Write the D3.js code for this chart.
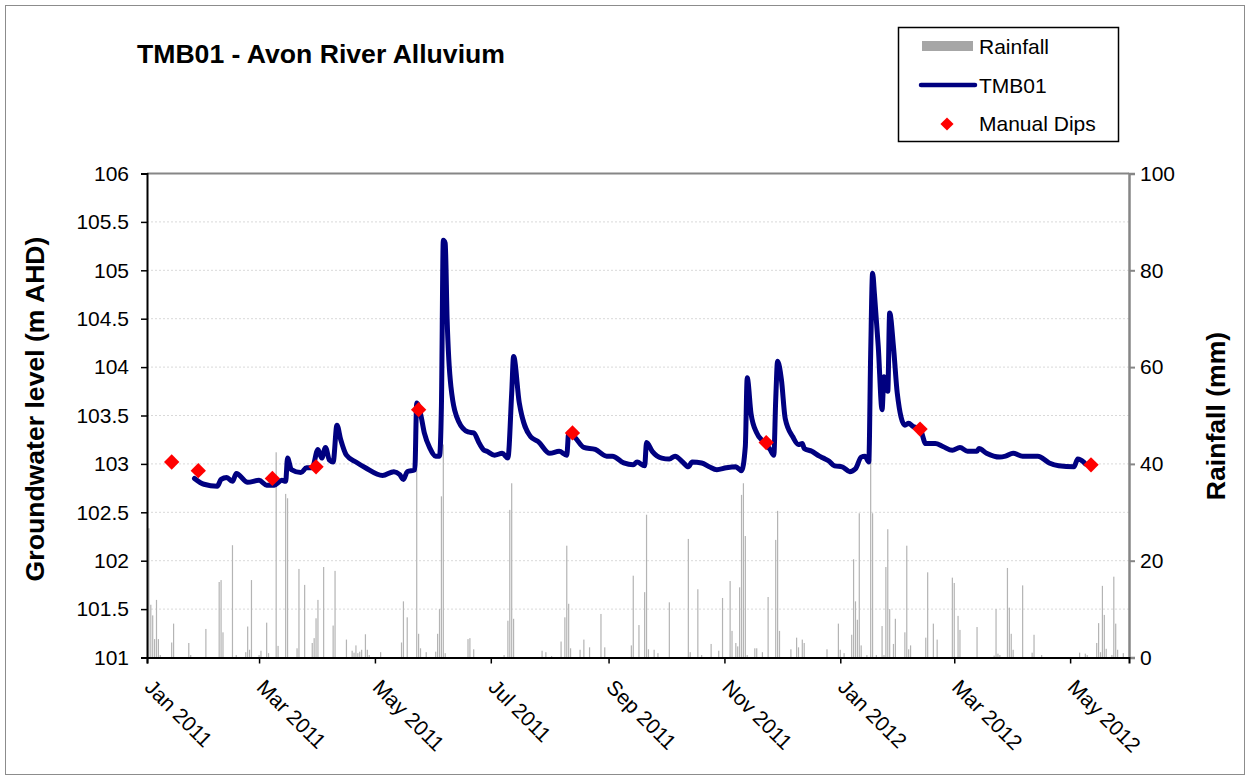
<!DOCTYPE html>
<html>
<head>
<meta charset="utf-8">
<script src="https://cdn.jsdelivr.net/npm/d3@7"></script>
<style>
  body { margin: 0; background: #fff; }
  svg { display: block; font-family: "Liberation Sans", Arial, sans-serif; }
</style>
</head>
<body>
<svg id="chart" width="1250" height="780"></svg>
<script>
// ---- data -------------------------------------------------------------
// Logger record for bore TMB01 (m AHD)
const levelDates = [
  "2011-01-26","2011-01-31","2011-02-07","2011-02-09","2011-02-12","2011-02-15","2011-02-17","2011-02-23",
  "2011-03-01","2011-03-05","2011-03-09","2011-03-13","2011-03-15","2011-03-16","2011-03-18","2011-03-23",
  "2011-03-26","2011-03-29","2011-04-01","2011-04-03","2011-04-05","2011-04-07","2011-04-09","2011-04-11",
  "2011-04-13","2011-04-16","2011-04-21","2011-04-26","2011-05-05","2011-05-11","2011-05-14","2011-05-16",
  "2011-05-18","2011-05-22","2011-05-23","2011-05-25","2011-05-27","2011-05-30","2011-06-02","2011-06-04",
  "2011-06-05","2011-06-06","2011-06-07","2011-06-08","2011-06-10","2011-06-14","2011-06-19","2011-06-22",
  "2011-06-25","2011-06-27","2011-06-29","2011-07-03","2011-07-07","2011-07-10","2011-07-12","2011-07-13",
  "2011-07-16","2011-07-22","2011-07-26","2011-08-01","2011-08-06","2011-08-10","2011-08-11","2011-08-14",
  "2011-08-19","2011-08-25","2011-08-31","2011-09-03","2011-09-09","2011-09-14","2011-09-16","2011-09-20",
  "2011-09-21","2011-09-24","2011-09-29","2011-10-03","2011-10-06","2011-10-10","2011-10-13","2011-10-15",
  "2011-10-20","2011-10-24","2011-10-28","2011-11-02","2011-11-07","2011-11-10","2011-11-12","2011-11-13",
  "2011-11-15","2011-11-18","2011-11-22","2011-11-25","2011-11-27","2011-11-28","2011-11-29","2011-12-01",
  "2011-12-03","2011-12-07","2011-12-10","2011-12-12","2011-12-13","2011-12-17","2011-12-21","2011-12-23",
  "2011-12-26","2011-12-29","2012-01-02","2012-01-06","2012-01-09","2012-01-12","2012-01-14","2012-01-16",
  "2012-01-17","2012-01-18","2012-01-19","2012-01-21","2012-01-23","2012-01-24","2012-01-26","2012-01-27",
  "2012-01-29","2012-01-31","2012-02-04","2012-02-06","2012-02-08","2012-02-12","2012-02-15","2012-02-20",
  "2012-02-24","2012-02-29","2012-03-04","2012-03-08","2012-03-13","2012-03-14","2012-03-18","2012-03-25",
  "2012-03-28","2012-04-01","2012-04-06","2012-04-14","2012-04-20","2012-04-25","2012-05-03","2012-05-05",
  "2012-05-08","2012-05-09"
];
const levelValues = [
  102.85,102.79,102.77,102.84,102.86,102.82,102.90,102.81,
  102.83,102.78,102.78,102.83,102.82,103.06,102.94,102.91,
  102.96,102.96,103.15,103.06,103.17,103.04,103.02,103.40,
  103.25,103.09,103.02,102.96,102.88,102.92,102.89,102.84,
  102.92,102.94,103.63,103.52,103.32,103.16,103.08,103.08,
  103.59,105.31,105.28,104.50,103.80,103.44,103.33,103.32,
  103.21,103.15,103.13,103.09,103.11,103.06,103.73,104.11,
  103.63,103.28,103.23,103.11,103.13,103.09,103.32,103.28,
  103.17,103.15,103.08,103.08,103.01,102.99,103.02,102.98,
  103.22,103.13,103.06,103.05,103.08,103.02,102.97,103.02,
  103.01,102.97,102.94,102.96,102.97,102.93,103.18,103.89,
  103.52,103.32,103.22,103.15,103.09,103.66,104.06,103.87,
  103.47,103.28,103.20,103.21,103.16,103.13,103.08,103.06,
  103.03,102.98,102.97,102.92,102.95,103.07,103.08,103.02,
  104.14,104.97,104.75,104.21,103.56,103.90,103.75,104.56,
  104.21,103.73,103.40,103.42,103.39,103.36,103.21,103.21,
  103.18,103.14,103.17,103.13,103.13,103.16,103.11,103.07,
  103.08,103.11,103.08,103.08,103.01,102.98,102.97,103.05,
  103.02,103.00
];

// Manual dip measurements (m AHD)
const dipDates = ["2011-01-14","2011-01-28","2011-03-08","2011-03-31","2011-05-24",
                  "2011-08-13","2011-11-23","2012-02-12","2012-05-12"];
const dipValues = [103.02,102.93,102.85,102.97,103.56,103.32,103.22,103.36,102.99];

// Daily rainfall (mm), rain days only
const rainDates = [
  "2011-01-02","2011-01-03","2011-01-04","2011-01-05","2011-01-06","2011-01-07","2011-01-08","2011-01-14",
  "2011-01-15","2011-01-23","2011-01-24","2011-02-01","2011-02-08","2011-02-09","2011-02-10","2011-02-15",
  "2011-02-17","2011-02-22","2011-02-23","2011-02-24","2011-02-25","2011-03-01","2011-03-02","2011-03-05",
  "2011-03-06","2011-03-10","2011-03-11","2011-03-15","2011-03-16","2011-03-21","2011-03-22","2011-03-25",
  "2011-03-29","2011-03-30","2011-03-31","2011-04-01","2011-04-04","2011-04-09","2011-04-10","2011-04-16",
  "2011-04-19","2011-04-20","2011-04-21","2011-04-22","2011-04-23","2011-04-24","2011-04-26","2011-04-27",
  "2011-04-28","2011-05-04","2011-05-15","2011-05-16","2011-05-18","2011-05-23","2011-05-24","2011-05-25",
  "2011-05-28","2011-06-02","2011-06-03","2011-06-04","2011-06-05","2011-06-06","2011-06-07","2011-06-19",
  "2011-06-20","2011-06-22","2011-07-08","2011-07-10","2011-07-11","2011-07-12","2011-07-13","2011-07-28",
  "2011-07-30","2011-08-02","2011-08-07","2011-08-09","2011-08-10","2011-08-11","2011-08-12","2011-08-17",
  "2011-08-19","2011-08-22","2011-08-28","2011-08-30","2011-09-13","2011-09-14","2011-09-17","2011-09-20",
  "2011-09-21","2011-09-22","2011-09-25","2011-09-27","2011-10-03","2011-10-13","2011-10-14","2011-10-18",
  "2011-10-20","2011-10-25","2011-10-29","2011-10-31","2011-11-04","2011-11-05","2011-11-07","2011-11-08",
  "2011-11-09","2011-11-10","2011-11-11","2011-11-12","2011-11-13","2011-11-17","2011-11-18","2011-11-21",
  "2011-11-24","2011-11-28","2011-11-29","2011-11-30","2011-12-06","2011-12-09","2011-12-10","2011-12-12",
  "2011-12-13","2011-12-25","2011-12-31","2012-01-01","2012-01-03","2012-01-07","2012-01-08","2012-01-09",
  "2012-01-10","2012-01-11","2012-01-12","2012-01-15","2012-01-17","2012-01-18","2012-01-20","2012-01-23",
  "2012-01-24","2012-01-25","2012-01-26","2012-01-27","2012-01-29","2012-01-30","2012-02-04","2012-02-05",
  "2012-02-06","2012-02-07","2012-02-15","2012-02-16","2012-02-19","2012-02-21","2012-02-29","2012-03-01",
  "2012-03-03","2012-03-04","2012-03-13","2012-03-22","2012-03-23","2012-03-24","2012-03-25","2012-03-29",
  "2012-03-30","2012-03-31","2012-04-01","2012-04-06","2012-04-11","2012-04-12","2012-04-16","2012-05-06",
  "2012-05-09","2012-05-10","2012-05-15","2012-05-16","2012-05-17","2012-05-18","2012-05-19","2012-05-20",
  "2012-05-23","2012-05-24","2012-05-25","2012-05-26","2012-05-29"
];
const rainValues = [
  26.7,10.9,8.7,3.8,11.9,3.8,0.5,3.1,
  7.0,3.0,0.5,5.9,15.6,16.0,5.2,23.2,
  0.5,1.1,6.4,1.6,16.0,0.5,1.4,7.2,
  0.9,42.4,2.4,33.8,32.9,1.9,18.3,15.0,
  3.0,4.0,8.1,11.9,18.7,6.6,17.9,3.7,
  1.4,1.0,2.5,0.9,1.2,1.6,4.8,1.6,
  0.5,1.1,3.1,11.6,8.3,39.0,4.9,1.9,
  1.1,1.2,4.9,10.0,33.3,44.0,0.9,3.8,
  4.0,1.7,0.5,7.6,30.5,36.0,8.0,1.4,
  1.1,0.3,3.3,8.3,23.1,11.1,1.9,1.6,
  3.7,2.1,9.0,2.1,2.5,16.9,6.7,13.5,
  29.5,1.7,1.6,0.9,11.4,24.5,1.1,14.1,
  0.5,2.8,1.4,12.3,15.8,5.5,3.0,2.3,
  14.5,33.6,36.0,25.1,0.5,1.9,1.9,1.1,
  12.5,24.3,30.3,5.5,1.7,4.1,2.1,3.7,
  3.0,1.7,7.0,1.6,0.9,4.7,20.3,11.6,
  7.8,29.8,2.5,0.5,41.0,29.8,0.5,6.5,
  0.5,18.7,26.5,10.0,2.8,8.0,5.2,23.1,
  1.7,2.5,4.1,17.6,7.0,3.7,16.5,15.4,
  8.6,5.7,6.3,0.4,10.0,0.8,0.5,18.5,
  10.3,4.9,1.6,14.9,1.0,4.7,0.5,1.0,
  0.8,0.5,3.0,7.1,1.1,14.8,8.8,1.8,
  0.5,16.7,7.0,1.6,0.9
];

// Axis ticks
const levelTicks = [101,101.5,102,102.5,103,103.5,104,104.5,105,105.5,106];
const rainTicks = [0,20,40,60,80,100];
const monthTicks = ["2011-01-01","2011-03-01","2011-05-01","2011-07-01","2011-09-01",
                    "2011-11-01","2012-01-01","2012-03-01","2012-05-01"];
const dateDomain = ["2011-01-01","2012-06-01"];

// ---- layout -----------------------------------------------------------
const parse = d3.utcParse("%Y-%m-%d");
const plot = { left: 147, right: 1129, top: 173.5, bottom: 657.5 };

const svg = d3.select("#chart");

const x = d3.scaleUtc().domain(dateDomain.map(parse)).range([plot.left, plot.right]);
const yLevel = d3.scaleLinear().domain([101, 106]).range([plot.bottom, plot.top]);
const yRain = d3.scaleLinear().domain([0, 100]).range([plot.bottom, plot.top]);

// outer frame
svg.append("rect")
  .attr("x", 5.5).attr("y", 5.5).attr("width", 1239).attr("height", 769)
  .attr("fill", "#fff").attr("stroke", "#8c8c8c").attr("stroke-width", 1);

// horizontal gridlines
svg.append("g").selectAll("line")
  .data(levelTicks.filter(v => v > 101 && v < 106))
  .join("line")
  .attr("x1", plot.left).attr("x2", plot.right)
  .attr("y1", d => yLevel(d)).attr("y2", d => yLevel(d))
  .attr("stroke", "#d9d9d9").attr("stroke-width", 1).attr("stroke-dasharray", "2,2");

// rainfall bars
const rain = rainDates.map((d, i) => ({ date: parse(d), mm: rainValues[i] }));
svg.append("g").selectAll("rect")
  .data(rain)
  .join("rect")
  .attr("x", d => x(d.date) - 0.6)
  .attr("width", 1.2)
  .attr("y", d => yRain(d.mm))
  .attr("height", d => yRain(0) - yRain(d.mm))
  .attr("fill", "#b4b4b4");

// top border
svg.append("line")
  .attr("x1", plot.left).attr("x2", plot.right)
  .attr("y1", plot.top).attr("y2", plot.top)
  .attr("stroke", "#868686").attr("stroke-width", 2);

// groundwater level line
const level = levelDates.map((d, i) => ({ date: parse(d), v: levelValues[i] }));
svg.append("path")
  .datum(level)
  .attr("fill", "none")
  .attr("stroke", "#000080")
  .attr("stroke-width", 5)
  .attr("stroke-linejoin", "round")
  .attr("stroke-linecap", "round")
  .attr("d", d3.line().curve(d3.curveMonotoneX).x(d => x(d.date)).y(d => yLevel(d.v)));

// manual dips
const dips = dipDates.map((d, i) => ({ date: parse(d), v: dipValues[i] }));
const diamond = d3.symbol().type(d3.symbolDiamond2).size(150);
svg.append("g").selectAll("path")
  .data(dips)
  .join("path")
  .attr("transform", d => `translate(${x(d.date)},${yLevel(d.v)})`)
  .attr("d", diamond)
  .attr("fill", "#ff0000");

// ---- axes -------------------------------------------------------------
const leftAxis = svg.append("g")
  .attr("transform", `translate(${plot.left},0)`)
  .call(d3.axisLeft(yLevel).tickValues(levelTicks).tickSize(6).tickPadding(12).tickFormat(d => String(d)));
leftAxis.select(".domain").attr("stroke", "#000").attr("stroke-width", 2);
leftAxis.selectAll(".tick line").attr("stroke", "#000").attr("stroke-width", 1.5);
leftAxis.selectAll(".tick text").attr("font-size", 21).attr("font-family", "Liberation Sans, Arial, sans-serif").attr("fill", "#000");

const rightAxis = svg.append("g")
  .attr("transform", `translate(${plot.right},0)`)
  .call(d3.axisRight(yRain).tickValues(rainTicks).tickSize(6).tickPadding(5));
rightAxis.select(".domain").attr("stroke", "#868686").attr("stroke-width", 2.5);
rightAxis.selectAll(".tick line").attr("stroke", "#868686").attr("stroke-width", 2);
rightAxis.selectAll(".tick text").attr("font-size", 21).attr("font-family", "Liberation Sans, Arial, sans-serif").attr("fill", "#000");

const fmtMonth = d3.utcFormat("%b %Y");
const bottomAxis = svg.append("g")
  .attr("transform", `translate(0,${plot.bottom})`)
  .call(d3.axisBottom(x).tickValues(monthTicks.map(parse)).tickSize(6).tickFormat(fmtMonth));
bottomAxis.select(".domain").attr("stroke", "#000").attr("stroke-width", 2);
bottomAxis.selectAll(".tick line").attr("stroke", "#000").attr("stroke-width", 1.5);
bottomAxis.selectAll(".tick text")
  .attr("font-size", 21).attr("font-family", "Liberation Sans, Arial, sans-serif").attr("fill", "#000")
  .attr("text-anchor", "start").attr("dy", null)
  .attr("transform", "translate(-4,31) rotate(45)")
  .attr("y", 0).attr("x", 0);

// ---- titles -----------------------------------------------------------
svg.append("text")
  .attr("x", 137).attr("y", 63)
  .attr("font-size", 26.6).attr("font-weight", "bold").attr("fill", "#000")
  .text("TMB01 - Avon River Alluvium");

svg.append("text")
  .attr("transform", "translate(44,409) rotate(-90)")
  .attr("text-anchor", "middle")
  .attr("font-size", 26.6).attr("font-weight", "bold").attr("fill", "#000")
  .text("Groundwater level (m AHD)");

svg.append("text")
  .attr("transform", "translate(1225,416) rotate(-90)")
  .attr("text-anchor", "middle")
  .attr("font-size", 26.6).attr("font-weight", "bold").attr("fill", "#000")
  .text("Rainfall (mm)");

// ---- legend -----------------------------------------------------------
const legend = svg.append("g");
legend.append("rect")
  .attr("x", 898.5).attr("y", 27.5).attr("width", 220).attr("height", 114)
  .attr("fill", "#fff").attr("stroke", "#000").attr("stroke-width", 1.5);
legend.append("rect")
  .attr("x", 922).attr("y", 41).attr("width", 51).attr("height", 10)
  .attr("fill", "#a6a6a6");
legend.append("line")
  .attr("x1", 921).attr("x2", 975).attr("y1", 85).attr("y2", 85)
  .attr("stroke", "#000080").attr("stroke-width", 4.5).attr("stroke-linecap", "round");
legend.append("path")
  .attr("transform", "translate(947,124)")
  .attr("d", d3.symbol().type(d3.symbolDiamond2).size(110))
  .attr("fill", "#ff0000");
const legendLabels = ["Rainfall", "TMB01", "Manual Dips"];
legend.selectAll("text.lbl")
  .data(legendLabels)
  .join("text")
  .attr("class", "lbl")
  .attr("x", 979).attr("y", (d, i) => 54 + i * 38.5)
  .attr("font-size", 21).attr("fill", "#000")
  .text(d => d);
</script>
</body>
</html>
